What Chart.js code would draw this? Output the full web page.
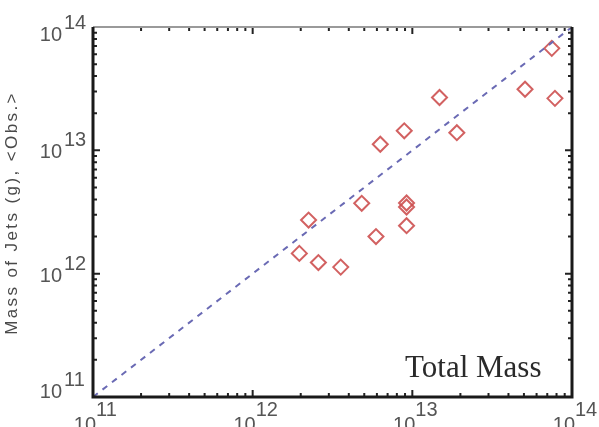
<!DOCTYPE html>
<html>
<head>
<meta charset="utf-8">
<script src="https://cdn.jsdelivr.net/npm/chart.js@4"></script>
<style>
  html, body { margin: 0; padding: 0; background: #fff; }
  #wrap { width: 599px; height: 427px; }
</style>
</head>
<body>
<div id="wrap"><canvas id="jets"></canvas></div>
<script>
// observed total mass (x) vs mass of jets (y), in grams
const massObs  = [1.96e12, 2.24e12, 2.58e12, 3.56e12, 4.82e12, 5.92e12, 6.30e12, 8.9e12, 9.2e12, 9.2e12, 9.2e12, 1.48e13, 1.90e13, 5.08e13, 7.47e13, 7.82e13];
const massJets = [1.46e12, 2.72e12, 1.23e12, 1.13e12, 3.72e12, 2.0e12, 1.12e13, 1.44e13, 3.74e12, 3.47e12, 2.45e12, 2.68e13, 1.39e13, 3.13e13, 6.71e13, 2.64e13];

// one-to-one line
const lineX = [1e11, 1e14];
const lineY = [1e11, 1e14];

// decade tick exponents
const xExps = [11, 12, 13, 14];
const yExps = [11, 12, 13, 14];

const yTitle = 'Mass of Jets (g), <Obs.>';
const panelLabel = 'Total Mass';

const points = massObs.map((v, i) => ({ x: v, y: massJets[i] }));
const linePts = lineX.map((v, i) => ({ x: v, y: lineY[i] }));

const axesPlugin = {
  id: 'axesPlugin',
  afterDraw(chart) {
    const ctx = chart.ctx;
    const a = chart.chartArea;
    const xs = chart.scales.x, ys = chart.scales.y;
    ctx.save();

    // inward ticks on all four sides
    ctx.strokeStyle = '#222';
    ctx.lineWidth = 2;
    for (let k = 11; k < 14; k++) {
      for (let m = 1; m <= 9; m++) {
        const v = m * Math.pow(10, k);
        const len = m === 1 ? 7 : 4;
        const px = xs.getPixelForValue(v);
        const py = ys.getPixelForValue(v);
        ctx.beginPath();
        ctx.moveTo(px, a.bottom); ctx.lineTo(px, a.bottom - len);
        ctx.moveTo(px, a.top); ctx.lineTo(px, a.top + len);
        ctx.moveTo(a.left, py); ctx.lineTo(a.left + len, py);
        ctx.moveTo(a.right, py); ctx.lineTo(a.right - len, py);
        ctx.stroke();
      }
    }

    // frame
    ctx.strokeStyle = '#9a9a9a';
    ctx.lineWidth = 2;
    ctx.beginPath();
    ctx.moveTo(a.left, a.top); ctx.lineTo(a.right, a.top);
    ctx.stroke();
    ctx.strokeStyle = '#1a1a1a';
    ctx.lineWidth = 3;
    ctx.beginPath();
    ctx.moveTo(a.left, a.top); ctx.lineTo(a.left, a.bottom); ctx.lineTo(a.right, a.bottom); ctx.lineTo(a.right, a.top);
    ctx.stroke();

    // tick labels 10^n
    ctx.fillStyle = '#555';
    ctx.textBaseline = 'alphabetic';
    const baseFont = '20px "Liberation Sans", Arial, sans-serif';
    xExps.forEach(e => {
      const px = xs.getPixelForValue(Math.pow(10, e));
      ctx.font = baseFont;
      ctx.textAlign = 'right';
      ctx.fillText('10', px + 3, 431);
      ctx.textAlign = 'left';
      ctx.fillText(String(e), px + 3, 416);
    });
    yExps.forEach(e => {
      let py = ys.getPixelForValue(Math.pow(10, e));
      py = Math.min(Math.max(py, 33), 390);
      ctx.font = baseFont;
      ctx.textAlign = 'right';
      ctx.fillText('10', 62, py + 8);
      ctx.textAlign = 'left';
      ctx.fillText(String(e), 64, py - 4);
    });

    // y axis title
    ctx.save();
    ctx.translate(17, 213);
    ctx.rotate(-Math.PI / 2);
    ctx.font = '17px "Liberation Sans", Arial, sans-serif';
    ctx.letterSpacing = '2.4px';
    ctx.textAlign = 'center';
    ctx.fillStyle = '#4a4a4a';
    ctx.fillText(yTitle, 0, 0);
    ctx.restore();

    // panel label
    ctx.font = '31px "Liberation Serif", "Times New Roman", serif';
    ctx.fillStyle = '#2a2a2a';
    ctx.textAlign = 'left';
    ctx.fillText(panelLabel, 405, 377);

    ctx.restore();
  }
};

new Chart(document.getElementById('jets'), {
  type: 'scatter',
  data: {
    datasets: [
      {
        label: 'one-to-one',
        type: 'line',
        data: linePts,
        borderColor: '#6a6ab4',
        borderWidth: 2,
        borderDash: [6, 6],
        pointRadius: 0,
        fill: false
      },
      {
        label: 'jets',
        data: points,
        pointStyle: 'rectRot',
        pointRadius: 7.5,
        pointBorderWidth: 2,
        pointBorderColor: 'rgba(205,80,80,0.9)',
        pointBackgroundColor: 'rgba(0,0,0,0)'
      }
    ]
  },
  options: {
    responsive: true,
    maintainAspectRatio: false,
    animation: false,
    layout: { padding: { left: 93, top: 27, right: 27, bottom: 30 } },
    plugins: { legend: { display: false }, tooltip: { enabled: false } },
    scales: {
      x: { type: 'logarithmic', min: 1e11, max: 1e14, display: false },
      y: { type: 'logarithmic', min: 1e11, max: 1e14, display: false }
    }
  },
  plugins: [axesPlugin]
});
</script>
</body>
</html>
